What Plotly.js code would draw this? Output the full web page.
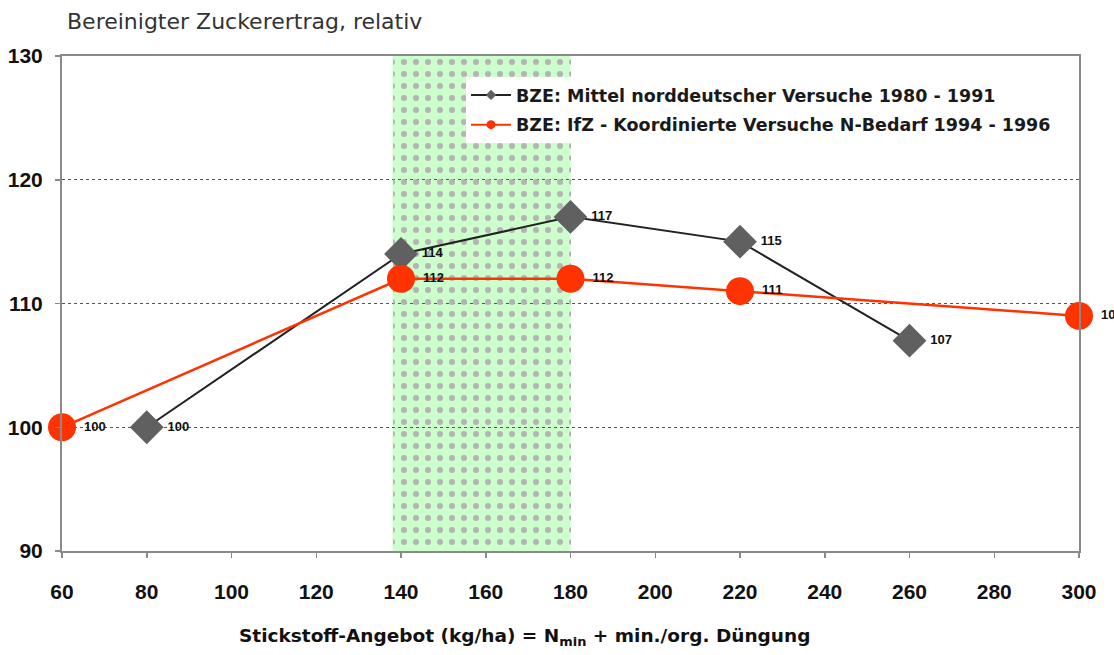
<!DOCTYPE html>
<html>
<head>
<meta charset="utf-8">
<script src="https://cdn.plot.ly/plotly-3.0.1.min.js"></script>
<style>html,body{margin:0;padding:0;background:#fff;}#chart{width:1114px;height:655px;}</style>
</head>
<body>
<div id="chart"></div>
<script>
// ---- data ----
const seriesAName = 'BZE: Mittel norddeutscher Versuche 1980 - 1991';
const seriesAX = [80, 140, 180, 220, 260];
const seriesAY = [100, 114, 117, 115, 107];

const seriesBName = 'BZE: IfZ - Koordinierte Versuche N-Bedarf 1994 - 1996';
const seriesBX = [60, 140, 180, 220, 300];
const seriesBY = [100, 112, 112, 111, 109];

const bandX = [138, 180];          // shaded optimum range
const yRange = [90, 130];
const xRange = [60, 300];
const xTicks = [60, 80, 100, 120, 140, 160, 180, 200, 220, 240, 260, 280, 300];
const yTicks = [90, 100, 110, 120, 130];

const titleText = 'Bereinigter Zuckerertrag, relativ';
const xTitleText = 'Stickstoff-Angebot (kg/ha) = N<sub>min</sub> + min./org. Düngung';

// ---- traces ----
const FONT = 'Liberation Sans, Arial, sans-serif';
const WIDE = 'DejaVu Sans, sans-serif';
const labelFont = {family: FONT, size: 13, color: '#111', weight: 'bold'};

const band = {
  type: 'bar',
  x: [(bandX[0] + bandX[1]) / 2],
  width: [bandX[1] - bandX[0]],
  base: [yRange[0]],
  y: [yRange[1] - yRange[0]],
  marker: {
    color: 'rgba(0,0,0,0)',
    line: {width: 0},
    pattern: {shape: '.', fgcolor: '#b4b4b4', bgcolor: 'rgba(0,0,0,0)', size: 12, solidity: 0.2}
  },
  showlegend: false,
  hoverinfo: 'skip'
};

const traceA = {
  type: 'scatter', mode: 'lines+markers+text',
  x: seriesAX, y: seriesAY,
  text: seriesAY.map(v => '\u00a0' + v), textposition: 'middle right', textfont: labelFont,
  line: {color: '#222', width: 2},
  marker: {symbol: 'diamond', size: 26, color: '#606060'},
  cliponaxis: false, showlegend: false
};

const traceB = {
  type: 'scatter', mode: 'lines+markers+text',
  x: seriesBX, y: seriesBY,
  text: seriesBY.map(v => '\u00a0' + v), textposition: 'middle right', textfont: labelFont,
  line: {color: '#ff3300', width: 2.5},
  marker: {symbol: 'circle', size: 28, color: '#ff3300'},
  cliponaxis: false, showlegend: false
};

const legA = {
  type: 'scatter', mode: 'lines+markers', x: [null], y: [null], name: seriesAName,
  legendgroup: 'a',
  line: {color: '#222', width: 2}, marker: {symbol: 'diamond', size: 8, color: '#606060'}
};
const legB = {
  type: 'scatter', mode: 'lines+markers', x: [null], y: [null], name: seriesBName,
  legendgroup: 'b',
  line: {color: '#ff3300', width: 2}, marker: {symbol: 'circle', size: 9, color: '#ff3300'}
};

const tickFont = {family: FONT, size: 21, color: '#111', weight: 'bold'};

const layout = {
  width: 1114, height: 655,
  margin: {l: 62, r: 35, t: 56, b: 104},
  paper_bgcolor: '#ffffff', plot_bgcolor: '#ffffff',
  showlegend: true,
  title: {
    text: titleText, xref: 'container', yref: 'container',
    x: 67 / 1114, xanchor: 'left', y: 1 - 21 / 655, yanchor: 'middle',
    font: {family: WIDE, size: 22, color: '#333'}
  },
  xaxis: {
    range: xRange, tickvals: xTicks, ticktext: xTicks.map(String),
    showgrid: false, zeroline: false,
    showline: true, mirror: true, linecolor: '#8a8a8a', linewidth: 2,
    ticks: 'outside', ticklen: 5, tickcolor: '#8a8a8a', tickwidth: 1.5,
    ticklabelstandoff: 16, tickfont: tickFont, fixedrange: true
  },
  yaxis: {
    range: yRange, tickvals: yTicks, ticktext: yTicks.map(String),
    showgrid: true, gridcolor: '#555', griddash: 'dot', gridwidth: 1,
    zeroline: false,
    showline: true, mirror: true, linecolor: '#8a8a8a', linewidth: 2,
    ticks: 'outside', ticklen: 5, tickcolor: '#8a8a8a', tickwidth: 1.5,
    ticklabelstandoff: 8, tickfont: tickFont, fixedrange: true
  },
  shapes: [{
    type: 'rect', layer: 'below', xref: 'x', yref: 'y',
    x0: bandX[0], x1: bandX[1], y0: yRange[0], y1: yRange[1],
    fillcolor: '#ccffcc', line: {width: 0}
  }],
  legend: {
    x: (466 - 62) / 1017, y: (551 - 77) / 495, xanchor: 'left', yanchor: 'top',
    bgcolor: '#ffffff', borderwidth: 0, itemwidth: 40, tracegroupgap: 4,
    traceorder: 'grouped',
    font: {family: WIDE, size: 17.5, color: '#1a1a1a', weight: 'bold'}
  },
  annotations: [{
    text: xTitleText, xref: 'paper', yref: 'paper',
    x: (524 - 62) / 1017, y: (551 - 637) / 495, xanchor: 'center', yanchor: 'middle',
    showarrow: false,
    font: {family: WIDE, size: 18.5, color: '#111', weight: 'bold'}
  }],
  hovermode: false,
  bargap: 0
};

Plotly.newPlot('chart', [band, traceA, traceB, legA, legB], layout, {displayModeBar: false, staticPlot: true});
</script>
</body>
</html>
